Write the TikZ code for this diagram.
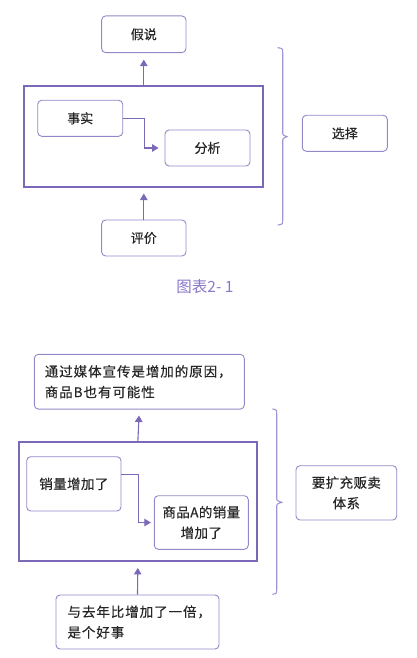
\documentclass[tikz,border=0pt]{standalone}
\usepackage{fontspec}
\setmainfont{Noto Sans CJK SC}
\newfontfamily\cjk[FakeBold=0.4]{Noto Sans CJK SC}
\newfontfamily\cjkplain{Noto Sans CJK SC}
\newfontfamily\cjkwide[LetterSpace=7,FakeBold=0.4]{Noto Sans CJK SC}
\newfontfamily\cjkmid[LetterSpace=3,FakeBold=0.4]{Noto Sans CJK SC}
\usetikzlibrary{arrows.meta}
\definecolor{lineP}{HTML}{7B68B8}
\definecolor{boxP}{HTML}{9487C8}
\definecolor{braceP}{HTML}{A094D4}
\definecolor{capP}{HTML}{8A78C8}
\definecolor{txt}{HTML}{262626}
\tikzset{
  box/.style={draw=boxP, line width=0.9pt, rounded corners=4pt, inner sep=0pt, text=txt, font=\cjk\fontsize{13}{16}\selectfont},
  bigbox/.style={box, font=\cjkmid\fontsize{13.5}{20.6}\selectfont},
  outer/.style={draw=lineP, line width=1.8pt, inner sep=0pt},
  arr/.style={draw=lineP, line width=1.1pt, -{Triangle[length=6.5pt,width=7.5pt]}},
  bracep/.style={draw=braceP, line width=1.1pt, line cap=round},
}
\begin{document}
\begin{tikzpicture}[x=1pt,y=-1pt]
\useasboundingbox (0,0) rectangle (417,658);
% ---------- top diagram ----------
\node[outer, minimum width=239pt, minimum height=100.7pt] (outerA) at (143.8,136.3) {};
\node[box, minimum width=84.3pt, minimum height=36.7pt] (jiashuo) at (143.8,34.3) {假说};
\node[box, minimum width=85pt, minimum height=36pt] (shishi) at (80.2,118.3) {事实};
\node[box, minimum width=85pt, minimum height=36pt] (fenxi) at (207.5,148) {分析};
\node[box, minimum width=84.3pt, minimum height=36pt] (pingjia) at (143.8,238) {评价};
\node[box, minimum width=85pt, minimum height=36pt] (xuanze) at (344.8,133.3) {选择};
\node[text=capP, font=\cjkplain\fontsize{15.5}{18}\selectfont] (capA) at (205,286.7) {图表2- 1};
\draw[arr, shorten >=6.5pt] (outerA.north) -- (jiashuo.south);
\draw[arr, shorten >=6pt] (pingjia.north) -- (outerA.south);
\draw[arr, shorten >=6pt] (shishi.east) -- ++(21.3,0) |- (fenxi.west);
\draw[bracep] (278,47.7) .. controls (282.7,48.5) .. (282.7,53)
  -- (282.7,131.5) .. controls (282.7,135) .. (287,136.7)
  .. controls (282.7,138.4) .. (282.7,142) -- (282.7,220)
  .. controls (282.7,224.2) .. (278,225);
% ---------- bottom diagram ----------
\node[outer, minimum width=238.3pt, minimum height=118.7pt] (outerB) at (137.85,501.7) {};
\node[bigbox, font=\cjkwide\fontsize{13.5}{20.6}\selectfont, minimum width=210pt, minimum height=54.7pt, text width=189pt, align=left] (cause) at (139.3,381.7) {通过媒体宣传是增加的原因，\\商品B也有可能性};
\node[bigbox, minimum width=94.3pt, minimum height=54.3pt] (sales) at (73.85,483.85) {销量增加了};
\node[bigbox, minimum width=94pt, minimum height=53.6pt, align=center] (prodA) at (201.3,522.5) {商品A的销量\\增加了};
\node[bigbox, font=\cjkwide\fontsize{13.5}{20.6}\selectfont, minimum width=163pt, minimum height=54pt, text width=140pt, align=left] (good) at (137.5,622) {与去年比增加了一倍，\\是个好事};
\node[bigbox, minimum width=100.7pt, minimum height=54.3pt, align=center] (expand) at (346.35,492.85) {要扩充贩卖\\体系};
\draw[arr, shorten >=6pt] (outerB.north) -- (cause.south);
\draw[arr, shorten >=6pt] (good.north) -- (outerB.south);
\draw[arr, shorten >=3pt] ([yshift=9.2pt]sales.east) -- ++(16.7,0) |- (prodA.west);
\draw[bracep] (272.7,409) .. controls (276.7,409.8) .. (276.7,414)
  -- (276.7,497) .. controls (276.7,500.6) .. (281.7,502.3)
  .. controls (276.7,504) .. (276.7,507.6) -- (276.7,589.3)
  .. controls (276.7,593.5) .. (272.7,594.3);
\end{tikzpicture}
\end{document}
